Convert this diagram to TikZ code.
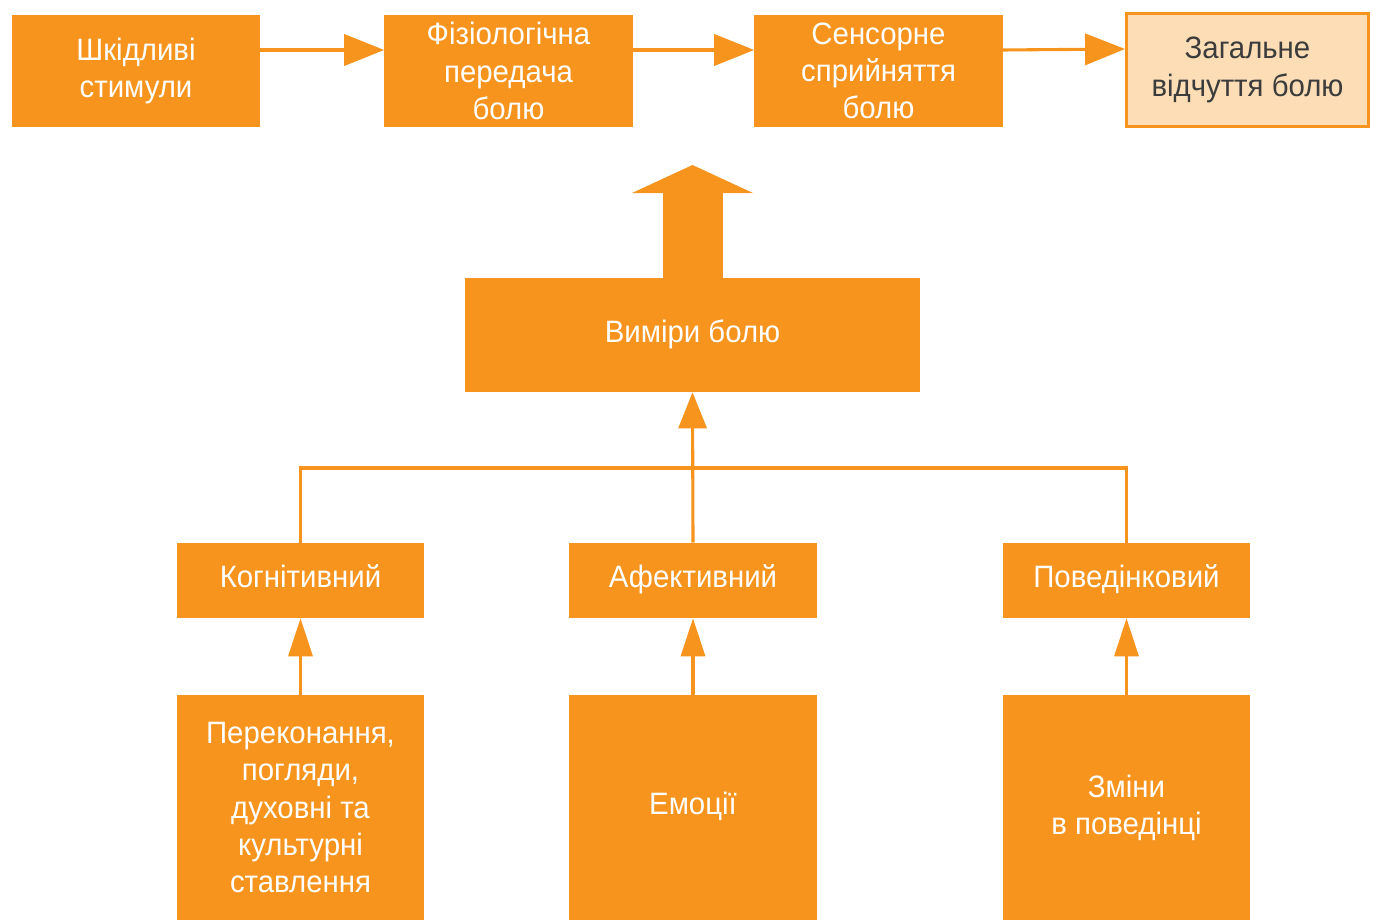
\documentclass[tikz,border=0pt]{standalone}
\usepackage{fontspec}
\setmainfont{Liberation Sans}[FakeStretch=0.95]
\usetikzlibrary{arrows.meta, positioning}
\definecolor{painOrange}{HTML}{F7941E}
\definecolor{painCream}{HTML}{FCDDB5}
\definecolor{painText}{HTML}{3C3C3C}
\tikzset{
    painBox/.style={
        fill=painOrange, text=white, minimum width=6.2cm, minimum height=2.8cm, align=center, inner sep=2pt, font=\fontsize{22}{26.5}\selectfont
    },
    painTotal/.style={
        painBox, fill=painCream, draw=painOrange, line width=2pt, text=painText, minimum width=6.05cm, minimum height=2.83cm
    },
    painWide/.style={
        painBox, minimum width=11.375cm, minimum height=2.85cm
    },
    painDim/.style={
        painBox, minimum width=6.175cm, minimum height=1.875cm
    },
    painSource/.style={
        painBox, minimum width=6.175cm, minimum height=5.625cm
    },
    painLine/.style={
        line width=2.2pt, draw=painOrange
    },
    painArrow/.style={
        painLine, -{Triangle[length=1cm, width=0.78cm]}
    },
    painUpArrow/.style={
        painLine, -{Triangle[length=0.95cm, width=0.6cm]}
    },
    painBigArrow/.style={
        draw=painOrange, line width=1.5cm, -{Triangle[length=0.7cm, width=3.0cm]}
    }
}

\begin{document}
\begin{tikzpicture}[x=0.025cm, y=-0.025cm]
    \useasboundingbox (0,0) rectangle (1373,920);

    % ── TOP ROW: PAIN PATHWAY
    \node[painBox] (stimuli) at (136,71) {Шкідливі\\стимули};
    \node[painBox] (physio) at (508.5,71) {Фізіологічна\\передача\\болю};
    \node[painBox] (sensory) at (878.5,71) {Сенсорне\\сприйняття\\болю};
    \node[painTotal] (total) at (1247.5,70) {Загальне\\відчуття болю};

    \draw[painArrow] ([yshift=0.525cm]stimuli.east) -- ([yshift=0.525cm]physio.west);
    \draw[painArrow] ([yshift=0.525cm]physio.east) -- ([yshift=0.525cm]sensory.west);
    \draw[painArrow] ([yshift=0.525cm]sensory.east) -- ([yshift=0.525cm]total.west);

    % ── DIMENSIONS OF PAIN
    \node[painWide] (dims) at (692.5,335) {\strut Виміри болю};
    \coordinate (bigTip) at (692.5,165);
    \draw[painBigArrow] (dims.north) -- (bigTip);

    % ── MIDDLE ROW: COMPONENTS
    \node[painDim] (cognitive) at (300.5,580.5) {\strut Когнітивний};
    \node[painDim] (affective) at (693,580.5) {\strut Афективний};
    \node[painDim] (behaviour) at (1126.5,580.5) {\strut Поведінковий};

    \coordinate (bus) at (693,468);
    \draw[painLine] (cognitive.north) |- (bus) -| (behaviour.north);
    \draw[painUpArrow, -{Triangle[length=0.9cm, width=0.7cm]}] (affective.north) -- (dims.south);

    % ── BOTTOM ROW: SOURCES
    \node[painSource] (beliefs) at (300.5,807.5) {Переконання,\\погляди,\\духовні та\\культурні\\ставлення};
    \node[painSource] (emotions) at (693,807.5) {\strut Емоції};
    \node[painSource] (changes) at (1126.5,807.5) {Зміни\\в поведінці};

    \draw[painUpArrow] (beliefs.north) -- (cognitive.south);
    \draw[painUpArrow] (emotions.north) -- (affective.south);
    \draw[painUpArrow] (changes.north) -- (behaviour.south);
\end{tikzpicture}
\end{document}
